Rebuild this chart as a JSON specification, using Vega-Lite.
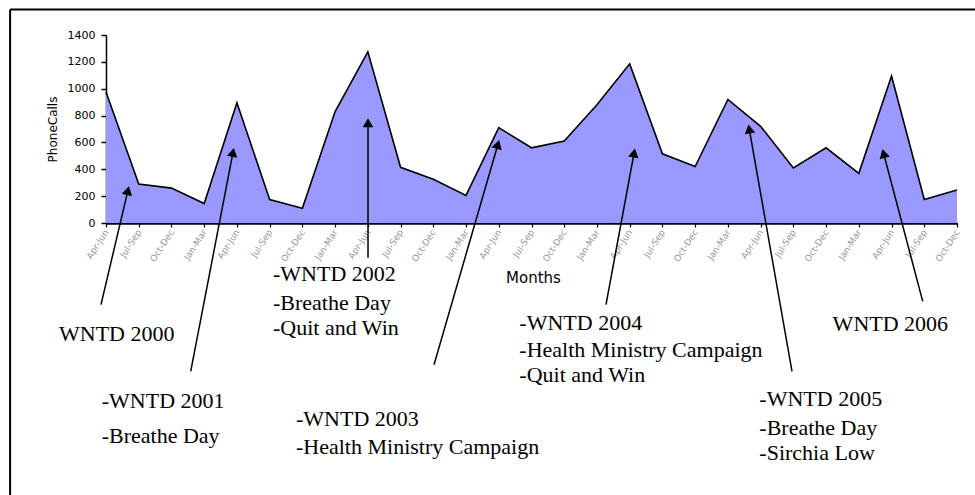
{
  "$schema": "https://vega.github.io/schema/vega-lite/v6.json",
  "width": 851,
  "height": 188,
  "autosize": {"type": "none"},
  "padding": {"left": 106, "top": 35, "right": 18, "bottom": 272},
  "background": "white",
  "config": {
    "view": {"stroke": null},
    "axisX": {
      "grid": false,
      "domainColor": "black", "domainWidth": 2.5,
      "tickColor": "black", "tickWidth": 1.2, "tickSize": 4,
      "labelAngle": -57, "labelFont": "DejaVu Sans", "labelFontSize": 9, "labelColor": "#999999",
      "labelPadding": 3, "labelOverlap": false, "labelFlush": false,
      "titleFont": "DejaVu Sans", "titleFontSize": 15, "titleFontWeight": "normal", "titleColor": "black",
      "titleX": 427, "titleY": 59, "titleBaseline": "alphabetic", "titleAlign": "center"
    },
    "axisY": {
      "grid": false,
      "domainColor": "black", "domainWidth": 1.5,
      "tickColor": "black", "tickWidth": 1.5, "tickSize": 5,
      "labelFont": "DejaVu Sans", "labelFontSize": 11, "labelColor": "black", "labelPadding": 6,
      "titleFont": "DejaVu Sans", "titleFontSize": 12, "titleFontWeight": "normal", "titleColor": "black",
      "titleX": -54, "titleY": 94, "titleBaseline": "middle", "titleAlign": "center", "titleAngle": -90
    }
  },
  "datasets": {
    "calls": [
      {"t": 0, "quarter": "Apr-Jun 2000", "calls": 975},
      {"t": 1, "quarter": "Jul-Sep 2000", "calls": 290},
      {"t": 2, "quarter": "Oct-Dec 2000", "calls": 260},
      {"t": 3, "quarter": "Jan-Mar 2001", "calls": 145},
      {"t": 4, "quarter": "Apr-Jun 2001", "calls": 895},
      {"t": 5, "quarter": "Jul-Sep 2001", "calls": 175},
      {"t": 6, "quarter": "Oct-Dec 2001", "calls": 110},
      {"t": 7, "quarter": "Jan-Mar 2002", "calls": 830},
      {"t": 8, "quarter": "Apr-Jun 2002", "calls": 1275},
      {"t": 9, "quarter": "Jul-Sep 2002", "calls": 415},
      {"t": 10, "quarter": "Oct-Dec 2002", "calls": 325},
      {"t": 11, "quarter": "Jan-Mar 2003", "calls": 205},
      {"t": 12, "quarter": "Apr-Jun 2003", "calls": 710},
      {"t": 13, "quarter": "Jul-Sep 2003", "calls": 560},
      {"t": 14, "quarter": "Oct-Dec 2003", "calls": 610},
      {"t": 15, "quarter": "Jan-Mar 2004", "calls": 880},
      {"t": 16, "quarter": "Apr-Jun 2004", "calls": 1185},
      {"t": 17, "quarter": "Jul-Sep 2004", "calls": 515},
      {"t": 18, "quarter": "Oct-Dec 2004", "calls": 420},
      {"t": 19, "quarter": "Jan-Mar 2005", "calls": 920},
      {"t": 20, "quarter": "Apr-Jun 2005", "calls": 720},
      {"t": 21, "quarter": "Jul-Sep 2005", "calls": 410},
      {"t": 22, "quarter": "Oct-Dec 2005", "calls": 560},
      {"t": 23, "quarter": "Jan-Mar 2006", "calls": 370},
      {"t": 24, "quarter": "Apr-Jun 2006", "calls": 1095},
      {"t": 25, "quarter": "Jul-Sep 2006", "calls": 175},
      {"t": 26, "quarter": "Oct-Dec 2006", "calls": 245}
    ],
    "notes": [
      {"event": "WNTD 2000", "label": "WNTD 2000", "x": -1.436, "y": -882},
      {"event": "WNTD 2001", "label": "-WNTD 2001", "x": -0.131, "y": -1380},
      {"event": "WNTD 2001", "label": "-Breathe Day", "x": -0.131, "y": -1640},
      {"event": "WNTD 2002", "label": "-WNTD 2002", "x": 5.102, "y": -435},
      {"event": "WNTD 2002", "label": "-Breathe Day", "x": 5.102, "y": -651},
      {"event": "WNTD 2002", "label": "-Quit and Win", "x": 5.102, "y": -832},
      {"event": "WNTD 2003", "label": "-WNTD 2003", "x": 5.805, "y": -1510},
      {"event": "WNTD 2003", "label": "-Health  Ministry Campaign", "x": 5.805, "y": -1718},
      {"event": "WNTD 2004", "label": "-WNTD 2004", "x": 12.628, "y": -795},
      {"event": "WNTD 2004", "label": "-Health Ministry Campaign", "x": 12.628, "y": -998},
      {"event": "WNTD 2004", "label": "-Quit and Win", "x": 12.628, "y": -1187},
      {"event": "WNTD 2005", "label": "-WNTD 2005", "x": 19.961, "y": -1366},
      {"event": "WNTD 2005", "label": "-Breathe Day", "x": 19.961, "y": -1577},
      {"event": "WNTD 2005", "label": "-Sirchia Low", "x": 19.961, "y": -1768},
      {"event": "WNTD 2006", "label": "WNTD 2006", "x": 22.2, "y": -807}
    ],
    "arrows": [
      {"event": "WNTD 2000", "x": 0.669, "y": 241, "x2": -0.153, "y2": -608, "angle": 13.2},
      {"event": "WNTD 2001", "x": 3.88, "y": 526, "x2": 2.588, "y2": -1105, "angle": 10.9},
      {"event": "WNTD 2002", "x": 8.005, "y": 747, "x2": 8.005, "y2": -258, "angle": 0},
      {"event": "WNTD 2003", "x": 11.974, "y": 585, "x2": 10.021, "y2": -1055, "angle": 16.2},
      {"event": "WNTD 2004", "x": 16.135, "y": 522, "x2": 15.276, "y2": -608, "angle": 10.5},
      {"event": "WNTD 2005", "x": 19.652, "y": 701, "x2": 20.959, "y2": -1105, "angle": -10.0},
      {"event": "WNTD 2006", "x": 23.758, "y": 518, "x2": 24.953, "y2": -584, "angle": -14.8}
    ],
    "frame": [
      {"side": "top", "x": -2.93, "x2": 40, "y": 1590, "y2": 1590},
      {"side": "left", "x": -2.93, "x2": -2.93, "y": 1590, "y2": -3000}
    ]
  },
  "layer": [
    {
      "data": {"name": "calls"},
      "mark": {"type": "area", "color": "#9999FF", "opacity": 1, "line": {"color": "black", "strokeWidth": 1.6}},
      "encoding": {
        "x": {
          "field": "t", "type": "quantitative",
          "scale": {"domain": [0, 26], "nice": false, "zero": false},
          "axis": {"title": "Months", "values": [0,1,2,3,4,5,6,7,8,9,10,11,12,13,14,15,16,17,18,19,20,21,22,23,24,25,26], "labelExpr": "['Apr-Jun','Jul-Sep','Oct-Dec','Jan-Mar'][datum.value % 4]"}
        },
        "y": {
          "field": "calls", "type": "quantitative",
          "scale": {"domain": [0, 1400], "nice": false, "zero": false},
          "axis": {"title": "PhoneCalls", "values": [0, 200, 400, 600, 800, 1000, 1200, 1400], "format": "d"}
        }
      }
    },
    {
      "data": {"name": "frame"},
      "mark": {"type": "rule", "color": "black", "strokeWidth": 2},
      "encoding": {
        "x": {"field": "x", "type": "quantitative", "scale": {"domain": [0, 26], "nice": false, "zero": false},
          "axis": {"title": "Months", "values": [0,1,2,3,4,5,6,7,8,9,10,11,12,13,14,15,16,17,18,19,20,21,22,23,24,25,26], "labelExpr": "['Apr-Jun','Jul-Sep','Oct-Dec','Jan-Mar'][datum.value % 4]"}},
        "x2": {"field": "x2"},
        "y": {"field": "y", "type": "quantitative", "scale": {"domain": [0, 1400], "nice": false, "zero": false},
          "axis": {"title": "PhoneCalls", "values": [0, 200, 400, 600, 800, 1000, 1200, 1400], "format": "d"}},
        "y2": {"field": "y2"}
      }
    },
    {
      "data": {"name": "arrows"},
      "mark": {"type": "rule", "color": "black", "strokeWidth": 1.5},
      "encoding": {
        "x": {"field": "x", "type": "quantitative", "scale": {"domain": [0, 26], "nice": false, "zero": false},
          "axis": {"title": "Months", "values": [0,1,2,3,4,5,6,7,8,9,10,11,12,13,14,15,16,17,18,19,20,21,22,23,24,25,26], "labelExpr": "['Apr-Jun','Jul-Sep','Oct-Dec','Jan-Mar'][datum.value % 4]"}},
        "y": {"field": "y", "type": "quantitative", "scale": {"domain": [0, 1400], "nice": false, "zero": false},
          "axis": {"title": "PhoneCalls", "values": [0, 200, 400, 600, 800, 1000, 1200, 1400], "format": "d"}},
        "x2": {"field": "x2"},
        "y2": {"field": "y2"}
      }
    },
    {
      "data": {"name": "arrows"},
      "mark": {"type": "point", "shape": "triangle-up", "filled": true, "color": "black", "opacity": 1, "size": 110},
      "encoding": {
        "x": {"field": "x", "type": "quantitative", "scale": {"domain": [0, 26], "nice": false, "zero": false},
          "axis": {"title": "Months", "values": [0,1,2,3,4,5,6,7,8,9,10,11,12,13,14,15,16,17,18,19,20,21,22,23,24,25,26], "labelExpr": "['Apr-Jun','Jul-Sep','Oct-Dec','Jan-Mar'][datum.value % 4]"}},
        "y": {"field": "y", "type": "quantitative", "scale": {"domain": [0, 1400], "nice": false, "zero": false},
          "axis": {"title": "PhoneCalls", "values": [0, 200, 400, 600, 800, 1000, 1200, 1400], "format": "d"}},
        "angle": {"field": "angle", "type": "quantitative", "scale": null}
      }
    },
    {
      "data": {"name": "notes"},
      "mark": {"type": "text", "align": "left", "baseline": "alphabetic", "font": "Liberation Serif", "fontSize": 22, "color": "black"},
      "encoding": {
        "x": {"field": "x", "type": "quantitative", "scale": {"domain": [0, 26], "nice": false, "zero": false},
          "axis": {"title": "Months", "values": [0,1,2,3,4,5,6,7,8,9,10,11,12,13,14,15,16,17,18,19,20,21,22,23,24,25,26], "labelExpr": "['Apr-Jun','Jul-Sep','Oct-Dec','Jan-Mar'][datum.value % 4]"}},
        "y": {"field": "y", "type": "quantitative", "scale": {"domain": [0, 1400], "nice": false, "zero": false},
          "axis": {"title": "PhoneCalls", "values": [0, 200, 400, 600, 800, 1000, 1200, 1400], "format": "d"}},
        "text": {"field": "label"}
      }
    }
  ]
}
